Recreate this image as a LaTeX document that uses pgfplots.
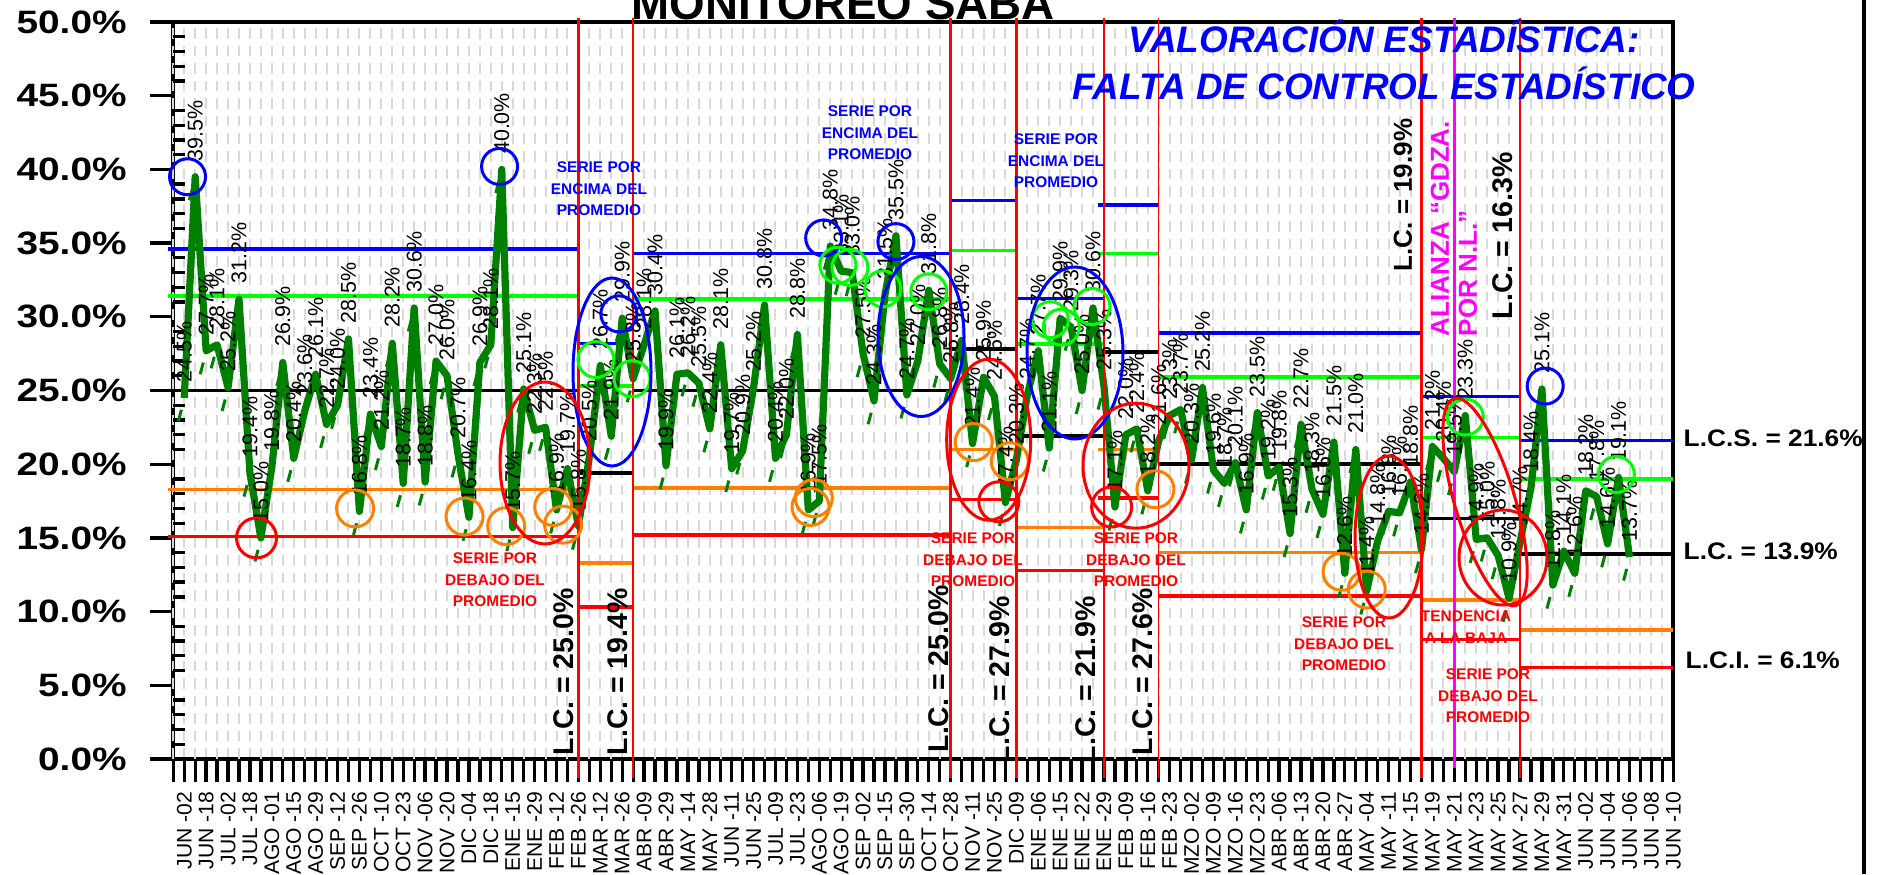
\documentclass[border=0pt]{standalone}
\usepackage{pgfplots}
\pgfplotsset{compat=1.18}
\usepackage{pgfplotstable}
\usepackage{fontspec}
\setmainfont{Liberation Sans}
\newfontfamily\widefont{Liberation Sans}[FakeStretch=1.2]
\newfontfamily\wfont{Liberation Sans}[FakeStretch=1.1]
\definecolor{dgreen}{RGB}{0,128,0}
\definecolor{lgreen}{RGB}{0,255,0}
\definecolor{orng}{RGB}{255,128,0}
\definecolor{mag}{RGB}{255,0,255}
\definecolor{cblue}{RGB}{0,0,255}
\definecolor{cred}{RGB}{255,0,0}

\pgfplotstableread{
x y
1 24.5
2 39.5
3 27.7
4 28.1
5 25.2
6 31.2
7 19.4
8 15.0
9 19.8
10 26.9
11 20.4
12 23.6
13 26.1
14 22.7
15 24.0
16 28.5
17 16.8
18 23.4
19 21.2
20 28.2
21 18.7
22 30.6
23 18.8
24 27.0
25 26.0
26 20.7
27 16.4
28 26.9
29 28.1
30 40.0
31 15.7
32 25.1
33 22.3
34 22.5
35 16.9
36 19.7
37 15.8
38 20.5
39 26.7
40 21.9
41 29.9
42 25.8
43 28.1
44 30.4
45 19.9
46 26.1
47 26.2
48 25.5
49 22.4
50 28.1
51 19.7
52 20.9
53 25.2
54 30.8
55 20.4
56 22.0
57 28.8
58 16.9
59 17.5
60 34.8
61 33.1
62 33.0
63 27.5
64 24.3
65 31.5
66 35.5
67 24.7
68 27.0
69 31.8
70 26.8
71 25.8
72 28.4
73 21.4
74 25.9
75 24.6
76 17.4
77 20.3
78 24.7
79 27.7
80 21.1
81 29.9
82 29.3
83 25.0
84 30.6
85 25.3
86 17.1
87 22.0
88 22.4
89 18.2
90 21.6
91 23.3
92 23.7
93 20.3
94 25.2
95 19.6
96 18.7
97 20.1
98 16.9
99 23.5
100 19.2
101 19.8
102 15.3
103 22.7
104 18.3
105 16.6
106 21.5
107 12.6
108 21.0
109 11.4
110 14.8
111 16.8
112 16.7
113 18.8
114 14.2
115 21.2
116 20.4
117 19.5
118 23.3
119 14.9
120 15.0
121 13.8
122 10.9
123 14.7
124 18.4
125 25.1
126 11.8
127 14.1
128 12.6
129 18.2
130 17.8
131 14.6
132 19.1
133 13.7
}\datatable

\pgfplotsset{cl/.style={line width=0.35mm, mark=none}}

\begin{document}
\begin{tikzpicture}[x=0.1mm,y=-0.1mm]
\begin{axis}[
  scale only axis, width=150mm, height=73.7mm,
  at={(17.33mm,-75.9mm)}, anchor=south west,
  xmin=0, xmax=137, ymin=0, ymax=50,
  clip=false,
  axis line style={line width=0.4mm},
  xtick pos=bottom, ytick pos=left,
  tick align=outside,
  major tick length=2.3mm,
  every tick/.style={black, line width=0.33mm},
  ytick={0,5,...,50},
  yticklabels={0.0\%,5.0\%,10.0\%,15.0\%,20.0\%,25.0\%,30.0\%,35.0\%,40.0\%,45.0\%,50.0\%},
  extra y ticks={1,2,3,4,6,7,8,9,11,12,13,14,16,17,18,19,21,22,23,24,26,27,28,29,31,32,33,34,36,37,38,39,41,42,43,44,46,47,48,49},
  extra y tick labels={},
  extra y tick style={tick align=inside, major tick length=1.2mm},
  yticklabel style={font=\widefont\bfseries\fontsize{9.2}{10}\selectfont, anchor=east, inner sep=0pt, xshift=-2.3mm},
  xtick={1,3,...,137},
  xticklabels={JUN -02, JUN -18, JUL -02, JUL -18, AGO -01, AGO -15, AGO -29, SEP -12, SEP -26, OCT -10, OCT -23, NOV -06, NOV -20, DIC -04, DIC -18, ENE -15, ENE -29, FEB -12, FEB -26, MAR -12, MAR -26, ABR -09, ABR -29, MAY -14, MAY -28, JUN -11, JUN -25, JUL -09, JUL -23, AGO -06, AGO -19, SEP -02, SEP -15, SEP -30, OCT -14, OCT -28, NOV -11, NOV -25, DIC -09, ENE -06, ENE -15, ENE -22, ENE -29, FEB -09, FEB -16, FEB -23, MZO -02, MZO -09, MZO -16, MZO -23, ABR -06, ABR -13, ABR -20, ABR -27, MAY -04, MAY -11, MAY -15, MAY -19, MAY -21, MAY -23, MAY -25, MAY -27, MAY -29, MAY -31, JUN -02, JUN -04, JUN -06, JUN -08, JUN -10},
  xticklabel style={font=\fontsize{6}{7}\selectfont, yshift=-0.9mm, rotate=90, anchor=east, inner sep=0pt},
  extra x ticks={0,2,...,136},
  extra x tick labels={},
  extra x tick style={grid=major},
  xmajorgrids=true,
  major grid style={gray!30, densely dashed, line width=0.2mm},
]
% control limits
% seg1
\addplot[cl,cblue] coordinates {(-0.5,34.6) (37,34.6)};
\addplot[cl,lgreen] coordinates {(-0.5,31.4) (37,31.4)};
\addplot[cl,black] coordinates {(-0.5,25.0) (37,25.0)};
\addplot[cl,orng] coordinates {(-0.5,18.3) (37,18.3)};
\addplot[cl,cred] coordinates {(-0.5,15.1) (37,15.1)};
% seg2
\addplot[cl,cblue] coordinates {(37,28.2) (42,28.2)};
\addplot[cl,lgreen] coordinates {(37,25.3) (42,25.3)};
\addplot[cl,black] coordinates {(37,19.4) (42,19.4)};
\addplot[cl,orng] coordinates {(37,13.3) (42,13.3)};
\addplot[cl,cred] coordinates {(37,10.3) (42,10.3)};
% seg3
\addplot[cl,cblue] coordinates {(42,34.3) (71,34.3)};
\addplot[cl,lgreen] coordinates {(42,31.2) (71,31.2)};
\addplot[cl,black] coordinates {(42,25.0) (71,25.0)};
\addplot[cl,orng] coordinates {(42,18.4) (71,18.4)};
\addplot[cl,cred] coordinates {(42,15.2) (71,15.2)};
% seg4
\addplot[cl,cblue] coordinates {(71,37.9) (77,37.9)};
\addplot[cl,lgreen] coordinates {(71,34.5) (77,34.5)};
\addplot[cl,black] coordinates {(71,27.8) (77,27.8)};
\addplot[cl,orng] coordinates {(71,21.0) (77,21.0)};
\addplot[cl,cred] coordinates {(71,17.6) (77,17.6)};
% seg5
\addplot[cl,cblue] coordinates {(77,31.25) (85,31.25)};
\addplot[cl,lgreen] coordinates {(77,28.15) (85,28.15)};
\addplot[cl,black] coordinates {(77,21.9) (85,21.9)};
\addplot[cl,orng] coordinates {(77,15.7) (85,15.7)};
\addplot[cl,cred] coordinates {(77,12.8) (85,12.8)};
% seg6
\addplot[cl,cblue] coordinates {(84.5,37.6) (90,37.6)};
\addplot[cl,lgreen] coordinates {(84.5,34.3) (90,34.3)};
\addplot[cl,black] coordinates {(84.5,27.6) (90,27.6)};
\addplot[cl,orng] coordinates {(84.5,21.0) (90,21.0)};
\addplot[cl,cred] coordinates {(84.5,17.7) (90,17.7)};
% seg7
\addplot[cl,cblue] coordinates {(90,28.9) (114,28.9)};
\addplot[cl,lgreen] coordinates {(90,25.9) (114,25.9)};
\addplot[cl,black] coordinates {(90,20.0) (114,20.0)};
\addplot[cl,orng] coordinates {(90,14.0) (114,14.0)};
\addplot[cl,cred] coordinates {(90,11.05) (114,11.05)};
% seg8
\addplot[cl,cblue] coordinates {(114,24.6) (123,24.6)};
\addplot[cl,lgreen] coordinates {(114,21.8) (123,21.8)};
\addplot[cl,black] coordinates {(114,16.3) (123,16.3)};
\addplot[cl,orng] coordinates {(114,10.8) (123,10.8)};
\addplot[cl,cred] coordinates {(114,8.1) (123,8.1)};
% seg9
\addplot[cl,cblue] coordinates {(123,21.6) (137,21.6)};
\addplot[cl,lgreen] coordinates {(123,19.0) (137,19.0)};
\addplot[cl,black] coordinates {(123,13.9) (137,13.9)};
\addplot[cl,orng] coordinates {(123,8.75) (137,8.75)};
\addplot[cl,cred] coordinates {(123,6.2) (137,6.2)};

% small dashes
\addplot[only marks, dgreen, mark=|, mark size=0.6mm, mark options={rotate=-15, line width=0.3mm}]
  table[x expr=\thisrow{x}-0.4, y expr=\thisrow{y}-1.2]{\datatable};

% main series
\addplot[dgreen, line width=0.72mm, line join=round, mark=none,
  point meta=y,
  nodes near coords={\pgfmathprintnumber[assume math mode=true,fixed,fixed zerofill,precision=1]{\pgfplotspointmeta}\%},
  nodes near coords style={rotate=90, anchor=west, inner xsep=1.2mm, inner ysep=0pt, text=black, font=\fontsize{6.1}{7}\selectfont}]
  table[x=x,y=y]{\datatable};

% vertical separators
\addplot[cred, line width=0.25mm] coordinates {(37,50.3) (37,-1.3)};
\addplot[cred, line width=0.25mm] coordinates {(42,50.3) (42,-1.3)};
\addplot[cred, line width=0.25mm] coordinates {(71,50.3) (71,-1.3)};
\addplot[cred, line width=0.25mm] coordinates {(77,50.3) (77,-1.3)};
\addplot[cred, line width=0.25mm] coordinates {(85,50.3) (85,-1.3)};
\addplot[cred, line width=0.15mm] coordinates {(90,50.3) (90,-1.3)};
\addplot[cred, line width=0.25mm] coordinates {(114,50.3) (114,-1.3)};
\addplot[cred, line width=0.15mm] coordinates {(123,50.3) (123,-1.3)};
\addplot[mag, line width=0.3mm] coordinates {(117,50.3) (117,-0.6)};

% small circles
\addplot[only marks, mark=o, mark size=1.8mm, cblue, mark options={line width=0.3mm}]
  coordinates {(1.3,39.5) (29.8,40.2) (40.7,30.2) (59.4,35.35) (66.0,35.1) (125.3,25.3)};
\addplot[only marks, mark=o, mark size=1.8mm, lgreen, mark options={line width=0.3mm}]
  coordinates {(38.6,27.1) (41.9,25.8) (60.7,33.5) (61.8,33.35) (64.8,31.9) (69.0,31.7) (80.1,29.8) (81.1,29.3) (83.9,30.7) (118.0,23.2) (131.8,19.3)};
\addplot[only marks, mark=o, mark size=1.85mm, orng, mark options={line width=0.3mm}]
  coordinates {(16.6,17.0) (26.6,16.45) (30.4,15.8) (34.7,17.1) (35.6,15.9) (58.5,17.7) (58.2,17.1) (73.1,21.5) (76.4,20.2) (89.7,18.3) (106.7,12.7) (109.0,11.5)};
\addplot[only marks, mark=o, mark size=2.0mm, cred, mark options={line width=0.3mm}]
  coordinates {(7.6,15.0) (75.4,17.45) (85.7,17.1)};
\end{axis}

% big ellipses (annotations)
\draw[cblue, line width=0.3mm] (612,372) ellipse [x radius=39, y radius=94];
\draw[cblue, line width=0.3mm] (921,336.5) ellipse [x radius=43, y radius=80];
\draw[cblue, line width=0.3mm] (1075,353) ellipse [x radius=48, y radius=86];
\draw[cred, line width=0.3mm] (545,463) ellipse [x radius=45, y radius=81];
\draw[cred, line width=0.3mm] (988.7,439.7) ellipse [x radius=42, y radius=80.5];
\draw[cred, line width=0.3mm] (1136,465.7) ellipse [x radius=53, y radius=62.5];
\draw[cred, line width=0.3mm] (1389,537) ellipse [x radius=34, y radius=81];
\draw[cred, line width=0.3mm, rotate around={16.6:(1485,502)}] (1485,502) ellipse [x radius=30, y radius=108];
\draw[cred, line width=0.3mm] (1503,557.5) ellipse [x radius=44, y radius=47.5];

% texts
\node[anchor=base, font=\bfseries\fontsize{13}{15}\selectfont] at (843,20) {MONITOREO SABA};
\node[anchor=base, text=cblue, font=\bfseries\itshape\fontsize{10.5}{12}\selectfont] at (1384,53) {VALORACIÓN ESTADÍSTICA:};
\node[anchor=base, text=cblue, font=\bfseries\itshape\fontsize{10.5}{12}\selectfont] at (1384,100) {FALTA DE CONTROL ESTADÍSTICO};

\tikzset{lcrot/.style={rotate=90, anchor=west, inner sep=0pt, font=\bfseries\fontsize{8.1}{9}\selectfont}}
\node[lcrot] at (564,756) {L.C. = 25.0\%};
\node[lcrot] at (618,756) {L.C. = 19.4\%};
\node[lcrot] at (939,753) {L.C. = 25.0\%};
\node[lcrot] at (1000,764) {L.C. = 27.9\%};
\node[lcrot] at (1086,764) {L.C. = 21.9\%};
\node[lcrot] at (1143,756) {L.C. = 27.6\%};
\node[lcrot, font=\bfseries\fontsize{7.4}{9}\selectfont] at (1403,272) {L.C. = 19.9\%};
\node[lcrot] at (1503,320) {L.C. = 16.3\%};
\node[rotate=90, anchor=west, inner sep=0pt, text=mag, font=\bfseries\fontsize{7.4}{9}\selectfont] at (1440,337) {ALIANZA “GDZA.};
\node[rotate=90, anchor=west, inner sep=0pt, text=mag, font=\bfseries\fontsize{7.4}{9}\selectfont] at (1468,337) {POR N.L.”};

\tikzset{rlab/.style={anchor=west, inner sep=0pt, font=\wfont\bfseries\fontsize{6.8}{8}\selectfont}}
\node[rlab] at (1683,438) {L.C.S. = 21.6\%};
\node[rlab] at (1683,551) {L.C. = 13.9\%};
\node[rlab] at (1685,660) {L.C.I. = 6.1\%};

\tikzset{ser/.style={align=center, inner sep=0pt, font=\bfseries\fontsize{4.4}{6.1}\selectfont}}
\node[ser, text=cblue] at (599,189) {SERIE POR\\ENCIMA DEL\\PROMEDIO};
\node[ser, text=cblue] at (870,133) {SERIE POR\\ENCIMA DEL\\PROMEDIO};
\node[ser, text=cblue] at (1056,161) {SERIE POR\\ENCIMA DEL\\PROMEDIO};
\node[ser, text=cred] at (495,580) {SERIE POR\\DEBAJO DEL\\PROMEDIO};
\node[ser, text=cred] at (973,560) {SERIE POR\\DEBAJO DEL\\PROMEDIO};
\node[ser, text=cred] at (1136,560) {SERIE POR\\DEBAJO DEL\\PROMEDIO};
\node[ser, text=cred] at (1344,644) {SERIE POR\\DEBAJO DEL\\PROMEDIO};
\node[ser, text=cred] at (1488,696) {SERIE POR\\DEBAJO DEL\\PROMEDIO};
\node[ser, text=cred] at (1466,627) {TENDENCIA\\A LA BAJA};

% outer border
\draw[line width=0.35mm] (1864,0) -- (1864,874);

\pgfresetboundingbox
\path[use as bounding box] (0,0) rectangle (1881,874);
\end{tikzpicture}
\end{document}
